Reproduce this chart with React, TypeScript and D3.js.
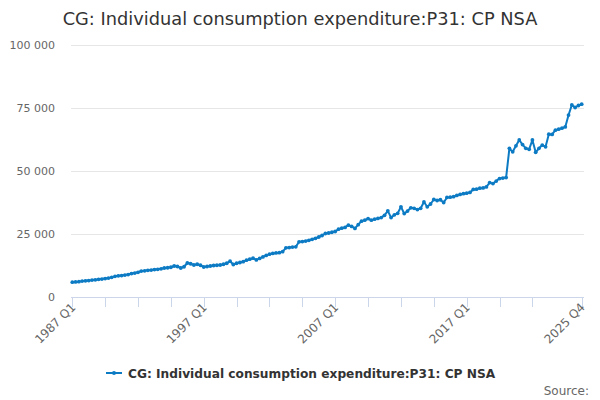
import React, { useEffect, useRef } from "react";
import * as d3 from "d3";

const title = "CG: Individual consumption expenditure:P31: CP NSA";
const seriesName = "CG: Individual consumption expenditure:P31: CP NSA";

// quarters 1987 Q1 .. 2025 Q4
const firstYear = 1987;
const lastYear = 2025;
const quarters: string[] = [];
for (let y = firstYear; y <= lastYear; y++) {
  for (let q = 1; q <= 4; q++) quarters.push(`${y} Q${q}`);
}

// values, one per quarter
const values = [
  5900, 6000, 6100, 6300, 6400, 6500, 6700, 6800, 7000, 7100,
  7300, 7500, 7800, 8200, 8400, 8500, 8700, 8900, 9300, 9500,
  9800, 10300, 10400, 10600, 10700, 10900, 11000, 11200, 11500, 11600,
  11800, 12300, 12100, 11500, 12000, 13500, 13200, 12700, 13000, 12600,
  11900, 12100, 12300, 12500, 12600, 12700, 13000, 13400, 14200, 12900,
  13400, 13700, 14000, 14600, 15000, 15400, 14700, 15300, 15900, 16500,
  17000, 17300, 17500, 17600, 18000, 19500, 19600, 19800, 19900, 21900,
  22000, 22200, 22500, 22900, 23300, 23800, 24400, 25200, 25400, 25700,
  26000, 26900, 27300, 27600, 28500, 28000, 27200, 28700, 30100, 30500,
  31100, 30500, 30900, 31200, 31500, 32400, 34200, 31500, 32600, 33200,
  35800, 33100, 34100, 35400, 35200, 34700, 35200, 37700, 35800, 36900,
  38700, 38300, 38600, 37500, 39500, 39600, 39800, 40300, 40700, 41000,
  41200, 41500, 42700, 42800, 43200, 43300, 43700, 45400, 45000, 46000,
  47000, 47200, 47400, 59000, 57600, 60000, 62300, 60500, 59000, 58600,
  62300, 57400, 59000, 60300, 59600, 64600, 64500, 66200, 66600, 67000,
  67500, 72200, 76200, 75200, 76000, 76500,
];

const yTicks = [0, 25000, 50000, 75000, 100000];
const xTickIdx = [0, 10, 20, 30, 40, 50, 60, 70, 80, 90, 100, 110, 120, 130, 140, 155];
const xLabelIdx = [0, 40, 80, 120, 155];

const font = "'DejaVu Sans', sans-serif";
const blue = "#0d7bc4";

const App = () => {
  const ref = useRef<SVGSVGElement>(null);

  useEffect(() => {
    if (!ref.current) return;
    const svg = d3.select(ref.current);
    svg.selectAll("*").remove();

    const plotLeft = 71;
    const plotRight = 584;
    const plotTop = 45;
    const plotBottom = 297;

    const x = d3.scalePoint<number>()
      .domain(d3.range(values.length))
      .range([72.3, 581.7]);
    const y = d3.scaleLinear().domain([0, 100000]).range([plotBottom, plotTop]);

    // title
    svg.append("text")
      .attr("x", 300)
      .attr("y", 25)
      .attr("text-anchor", "middle")
      .style("font-family", font)
      .style("font-size", "17.8px")
      .style("fill", "#333")
      .text(title);

    // gridlines
    svg.append("g")
      .selectAll("line")
      .data(yTicks.slice(1))
      .enter()
      .append("line")
      .attr("x1", plotLeft)
      .attr("x2", plotRight)
      .attr("y1", d => y(d) + 0.5)
      .attr("y2", d => y(d) + 0.5)
      .attr("stroke", "#e6e6e6");

    // y labels
    svg.append("g")
      .selectAll("text")
      .data(yTicks)
      .enter()
      .append("text")
      .attr("x", 55)
      .attr("y", d => y(d) + 4)
      .attr("text-anchor", "end")
      .style("font-family", font)
      .style("font-size", "11px")
      .style("fill", "#666")
      .text(d => d3.format(",")(d).replace(/,/g, " "));

    // x axis line and ticks
    svg.append("line")
      .attr("x1", plotLeft)
      .attr("x2", plotRight)
      .attr("y1", plotBottom + 0.5)
      .attr("y2", plotBottom + 0.5)
      .attr("stroke", "#ccd6eb");

    svg.append("g")
      .selectAll("line")
      .data(xTickIdx)
      .enter()
      .append("line")
      .attr("x1", d => Math.round(x(d) || 0) + 0.5)
      .attr("x2", d => Math.round(x(d) || 0) + 0.5)
      .attr("y1", plotBottom)
      .attr("y2", plotBottom + 10)
      .attr("stroke", "#ccd6eb");

    svg.append("g")
      .selectAll("text")
      .data(xLabelIdx)
      .enter()
      .append("text")
      .attr("transform", d => `translate(${(x(d) || 0) + 4},${plotBottom + 11})rotate(-45)`)
      .attr("text-anchor", "end")
      .style("font-family", font)
      .style("font-size", "12px")
      .style("fill", "#666")
      .text(d => quarters[d]);

    // series line
    const line = d3.line<number>()
      .x((d, i) => x(i) || 0)
      .y(d => y(d));

    svg.append("path")
      .datum(values)
      .attr("fill", "none")
      .attr("stroke", blue)
      .attr("stroke-width", 2)
      .attr("stroke-linejoin", "round")
      .attr("d", line);

    svg.append("g")
      .selectAll("circle")
      .data(values)
      .enter()
      .append("circle")
      .attr("cx", (d, i) => x(i) || 0)
      .attr("cy", d => y(d))
      .attr("r", 1.9)
      .attr("fill", blue);

    // legend
    const legend = svg.append("g").attr("transform", "translate(106,373)");
    legend.append("line")
      .attr("x1", 0)
      .attr("x2", 16)
      .attr("y1", 0)
      .attr("y2", 0)
      .attr("stroke", blue)
      .attr("stroke-width", 2);
    legend.append("circle")
      .attr("cx", 8)
      .attr("cy", 0)
      .attr("r", 2)
      .attr("fill", blue);
    legend.append("text")
      .attr("x", 22)
      .attr("y", 4.5)
      .style("font-family", font)
      .style("font-size", "12.2px")
      .style("font-weight", "bold")
      .style("fill", "#333")
      .text(seriesName);

    // credits
    svg.append("text")
      .attr("x", 589)
      .attr("y", 395)
      .attr("text-anchor", "end")
      .style("font-family", font)
      .style("font-size", "12px")
      .style("fill", "#666")
      .text("Source:");
  }, []);

  return (
    <svg
      ref={ref}
      width={600}
      height={400}
      style={{ position: "absolute", left: 0, top: 0, background: "#fff" }}
    />
  );
};

export default App;
